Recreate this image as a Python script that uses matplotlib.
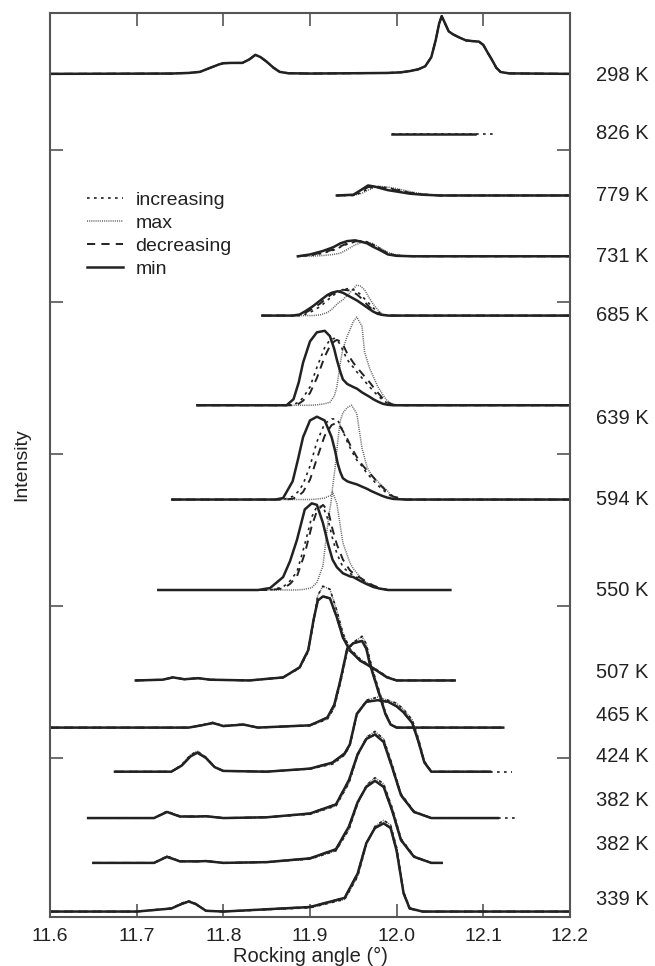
import numpy as np
import matplotlib.pyplot as plt

# temperature labels (top to bottom), offsets of each baseline and label heights
temps = ['298 K', '826 K', '779 K', '731 K', '685 K', '639 K', '594 K',
         '550 K', '507 K', '465 K', '424 K', '382 K', '382 K', '339 K']
offsets = [5.50, 5.105, 4.70, 4.30, 3.91, 3.32, 2.70, 2.105, 1.51, 1.20, 0.91, 0.605, 0.31, -0.01]
label_y = [5.49, 5.105, 4.70, 4.30, 3.91, 3.23, 2.70, 2.105, 1.56, 1.28, 1.01, 0.72, 0.43, 0.07]

# 298 K
x298 = [11.60, 11.74, 11.76, 11.773, 11.785, 11.795, 11.80, 11.81, 11.822, 11.83, 11.837, 11.843, 11.85,
        11.858, 11.865, 11.875, 11.90, 11.95, 11.99, 12.005, 12.015, 12.025, 12.033, 12.04, 12.045, 12.049,
        12.052, 12.056, 12.06, 12.065, 12.072, 12.08, 12.088, 12.095, 12.10, 12.105, 12.11, 12.115, 12.12,
        12.13, 12.2]
h298 = [0, 0.002, 0.006, 0.013, 0.04, 0.062, 0.07, 0.072, 0.072, 0.095, 0.125, 0.11, 0.08,
        0.04, 0.013, 0.004, 0.002, 0.004, 0.006, 0.01, 0.018, 0.03, 0.05, 0.11, 0.22, 0.33,
        0.38, 0.33, 0.28, 0.26, 0.24, 0.22, 0.215, 0.212, 0.19, 0.14, 0.092, 0.04, 0.012,
        0.003, 0]

# 826 K
x826_min = [11.995, 12.09]
x826_inc = [11.995, 12.112]

# 779 K
x779 = [11.931, 11.95, 11.96, 11.967, 11.975, 11.98, 11.99, 12.0, 12.015, 12.03, 12.05, 12.2]
h779_min = [0, 0.005, 0.04, 0.066, 0.058, 0.05, 0.035, 0.026, 0.012, 0.005, 0, 0]
h779_max = [0, 0, 0.015, 0.035, 0.055, 0.06, 0.055, 0.045, 0.026, 0.01, 0, 0]
h779_inc = [0, 0, 0.02, 0.045, 0.058, 0.058, 0.05, 0.04, 0.02, 0.008, 0, 0]
h779_dec = [0, 0.003, 0.03, 0.055, 0.06, 0.055, 0.045, 0.035, 0.018, 0.006, 0, 0]

# 731 K
x731 = [11.886, 11.90, 11.915, 11.927, 11.935, 11.943, 11.952, 11.96, 11.966, 11.972, 11.981, 11.99, 12.0, 12.02, 12.2]
h731_min = [0, 0.012, 0.035, 0.06, 0.085, 0.10, 0.105, 0.095, 0.085, 0.065, 0.04, 0.012, 0.003, 0, 0]
h731_max = [0, 0, 0.005, 0.012, 0.02, 0.045, 0.075, 0.09, 0.09, 0.085, 0.055, 0.025, 0.008, 0, 0]
h731_inc = [0, 0.005, 0.02, 0.04, 0.06, 0.08, 0.095, 0.10, 0.095, 0.08, 0.05, 0.02, 0.005, 0, 0]
h731_dec = [0, 0.008, 0.025, 0.045, 0.065, 0.085, 0.098, 0.10, 0.092, 0.075, 0.045, 0.018, 0.004, 0, 0]

# 685 K
x685 = [11.845, 11.88, 11.888, 11.895, 11.903, 11.912, 11.92, 11.925, 11.932, 11.938, 11.946, 11.954,
        11.958, 11.963, 11.968, 11.973, 11.978, 11.983, 11.99, 12.0, 12.2]
h685_min = [0, 0, 0.007, 0.03, 0.06, 0.10, 0.135, 0.15, 0.16, 0.15, 0.125, 0.10, 0.085, 0.065, 0.045, 0.026, 0.012, 0.005, 0, 0, 0]
h685_max = [0, 0, 0, 0, 0, 0.005, 0.02, 0.04, 0.08, 0.105, 0.15, 0.20, 0.195, 0.17, 0.12, 0.075, 0.04, 0.01, 0, 0, 0]
h685_inc = [0, 0, 0, 0.01, 0.03, 0.06, 0.10, 0.125, 0.155, 0.17, 0.18, 0.16, 0.14, 0.11, 0.08, 0.05, 0.025, 0.01, 0.002, 0, 0]
h685_dec = [0, 0, 0.003, 0.02, 0.045, 0.08, 0.12, 0.14, 0.16, 0.17, 0.165, 0.14, 0.12, 0.09, 0.06, 0.035, 0.015, 0.005, 0, 0, 0]

# 639 K
x639 = [11.77, 11.86, 11.873, 11.881, 11.887, 11.892, 11.90, 11.908, 11.917, 11.923, 11.928, 11.931, 11.935,
        11.938, 11.943, 11.95, 11.954, 11.96, 11.963, 11.969, 11.973, 11.978, 11.984, 11.989, 11.996, 12.01, 12.2]
h639_min = [0, 0, 0, 0.04, 0.15, 0.28, 0.42, 0.48, 0.49, 0.455, 0.37, 0.30, 0.22, 0.17, 0.14, 0.12, 0.11,
            0.085, 0.075, 0.055, 0.04, 0.025, 0.01, 0.004, 0, 0, 0]
h639_max = [0, 0, 0, 0, 0, 0, 0, 0.003, 0.01, 0.02, 0.06, 0.12, 0.28, 0.37, 0.455, 0.55, 0.58, 0.52, 0.35,
            0.24, 0.19, 0.125, 0.07, 0.03, 0.005, 0, 0]
h639_inc = [0, 0, 0, 0.005, 0.02, 0.05, 0.12, 0.25, 0.38, 0.43, 0.44, 0.43, 0.40, 0.36, 0.30, 0.25, 0.22,
            0.18, 0.16, 0.12, 0.095, 0.065, 0.035, 0.015, 0.002, 0, 0]
h639_dec = [0, 0, 0, 0, 0.01, 0.03, 0.08, 0.18, 0.32, 0.39, 0.42, 0.43, 0.42, 0.40, 0.34, 0.28, 0.25,
            0.21, 0.19, 0.15, 0.12, 0.085, 0.045, 0.02, 0.004, 0, 0]

# 594 K
x594 = [11.741, 11.86, 11.869, 11.88, 11.886, 11.892, 11.90, 11.908, 11.917, 11.925, 11.929, 11.932, 11.935,
        11.938, 11.943, 11.948, 11.954, 11.96, 11.966, 11.971, 11.977, 11.983, 11.989, 11.996, 12.01, 12.2]
h594_min = [0, 0, 0.01, 0.12, 0.26, 0.41, 0.52, 0.545, 0.52, 0.41, 0.32, 0.237, 0.18, 0.14, 0.12, 0.11,
            0.10, 0.085, 0.07, 0.055, 0.04, 0.025, 0.013, 0.004, 0, 0]
h594_max = [0, 0, 0, 0, 0, 0, 0, 0.003, 0.01, 0.03, 0.21, 0.38, 0.52, 0.57, 0.605, 0.62, 0.565, 0.34,
            0.21, 0.16, 0.125, 0.09, 0.06, 0.01, 0, 0]
h594_inc = [0, 0, 0, 0.02, 0.05, 0.1, 0.22, 0.38, 0.50, 0.53, 0.53, 0.52, 0.49, 0.45, 0.38, 0.32, 0.26,
            0.22, 0.17, 0.14, 0.10, 0.07, 0.04, 0.015, 0, 0]
h594_dec = [0, 0, 0, 0.005, 0.02, 0.05, 0.13, 0.27, 0.42, 0.49, 0.50, 0.50, 0.48, 0.45, 0.40, 0.34, 0.28,
            0.23, 0.19, 0.16, 0.12, 0.085, 0.05, 0.02, 0, 0]

# 550 K
x550 = [11.725, 11.84, 11.854, 11.869, 11.877, 11.885, 11.894, 11.902, 11.908, 11.915, 11.921, 11.926,
        11.931, 11.938, 11.946, 11.95, 11.958, 11.965, 11.973, 11.98, 11.99, 12.062]
h550_min = [0, 0, 0.013, 0.085, 0.19, 0.33, 0.53, 0.57, 0.56, 0.44, 0.30, 0.20, 0.15, 0.11, 0.09, 0.085,
            0.06, 0.04, 0.02, 0.01, 0, 0]
h550_max = [0, 0, 0, 0, 0, 0, 0.005, 0.015, 0.05, 0.16, 0.46, 0.645, 0.57, 0.31, 0.18, 0.14, 0.085, 0.05,
            0.02, 0.008, 0, 0]
h550_inc = [0, 0, 0, 0.02, 0.06, 0.12, 0.3, 0.48, 0.55, 0.55, 0.46, 0.34, 0.24, 0.15, 0.11, 0.095, 0.07,
            0.05, 0.025, 0.012, 0, 0]
h550_dec = [0, 0, 0, 0.01, 0.04, 0.09, 0.24, 0.42, 0.52, 0.56, 0.52, 0.40, 0.30, 0.20, 0.13, 0.11, 0.08,
            0.055, 0.03, 0.015, 0, 0]

# 507 K
x507 = [11.699, 11.73, 11.742, 11.755, 11.771, 11.785, 11.83, 11.869, 11.888, 11.898, 11.904, 11.909,
        11.915, 11.923, 11.931, 11.938, 11.946, 11.958, 11.973, 11.989, 12.0, 12.067]
h507_min = [0, 0.005, 0.02, 0.008, 0.015, 0.005, 0, 0.02, 0.086, 0.2, 0.395, 0.526, 0.553, 0.54, 0.415,
            0.283, 0.197, 0.13, 0.08, 0.02, 0, 0]
h507_max = [0, 0.005, 0.022, 0.008, 0.017, 0.005, 0, 0.02, 0.08, 0.19, 0.38, 0.56, 0.62, 0.60, 0.46,
            0.31, 0.21, 0.14, 0.085, 0.025, 0, 0]

# 465 K
x465 = [11.60, 11.76, 11.775, 11.788, 11.80, 11.812, 11.823, 11.84, 11.90, 11.92, 11.928, 11.935, 11.943,
        11.95, 11.96, 11.965, 11.969, 11.975, 11.981, 11.987, 11.993, 12.0, 12.123]
h465_min = [0, 0, 0.015, 0.03, 0.01, 0.015, 0.02, 0, 0.015, 0.066, 0.15, 0.31, 0.52, 0.555, 0.57, 0.52,
            0.42, 0.31, 0.20, 0.09, 0.02, 0, 0]
h465_max = [0, 0, 0.017, 0.034, 0.012, 0.017, 0.022, 0, 0.013, 0.055, 0.13, 0.29, 0.50, 0.56, 0.60, 0.55,
            0.45, 0.33, 0.22, 0.10, 0.025, 0, 0]

# 424 K
x424 = [11.675, 11.74, 11.752, 11.762, 11.77, 11.78, 11.79, 11.80, 11.85, 11.90, 11.926, 11.94, 11.946,
        11.954, 11.965, 11.978, 11.99, 12.0, 12.008, 12.018, 12.025, 12.032, 12.04, 12.108]
h424_min = [0, 0, 0.04, 0.10, 0.125, 0.09, 0.03, 0.005, 0, 0.02, 0.06, 0.12, 0.18, 0.38, 0.46, 0.47, 0.46,
            0.43, 0.39, 0.32, 0.2, 0.06, 0, 0]
h424_max = [0, 0, 0.045, 0.11, 0.135, 0.095, 0.03, 0.005, 0, 0.018, 0.05, 0.11, 0.17, 0.37, 0.47, 0.49, 0.47,
            0.45, 0.41, 0.34, 0.22, 0.07, 0, 0]
x424_tail = [12.108, 12.133]

# 382 K (upper)
x382 = [11.644, 11.72, 11.735, 11.75, 11.77, 11.78, 11.80, 11.85, 11.90, 11.93, 11.945, 11.955, 11.965,
        11.975, 11.985, 11.995, 12.005, 12.02, 12.04, 12.117]
h382_min = [0, 0, 0.04, 0.01, 0.01, 0.012, 0, 0.005, 0.03, 0.09, 0.25, 0.42, 0.52, 0.55, 0.50, 0.33, 0.15,
            0.04, 0, 0]
h382_max = [0, 0, 0.045, 0.012, 0.01, 0.014, 0, 0.005, 0.025, 0.08, 0.23, 0.41, 0.53, 0.57, 0.52, 0.35,
            0.16, 0.045, 0, 0]
x382_tail = [12.117, 12.139]

# 382 K (lower)
x382b = [11.65, 11.72, 11.735, 11.75, 11.77, 11.78, 11.80, 11.85, 11.90, 11.93, 11.945, 11.955, 11.965,
         11.975, 11.985, 11.995, 12.005, 12.02, 12.04, 12.052]
h382b_min = [0, 0, 0.04, 0.01, 0.01, 0.012, 0, 0.005, 0.03, 0.09, 0.24, 0.40, 0.50, 0.54, 0.50, 0.34, 0.15,
             0.04, 0, 0]
h382b_max = [0, 0, 0.045, 0.012, 0.01, 0.014, 0, 0.005, 0.025, 0.08, 0.22, 0.39, 0.51, 0.56, 0.52, 0.36,
             0.16, 0.045, 0, 0]

# 339 K
x339 = [11.60, 11.70, 11.74, 11.752, 11.76, 11.768, 11.78, 11.80, 11.90, 11.94, 11.955, 11.965, 11.975,
        11.985, 11.993, 12.0, 12.008, 12.015, 12.03, 12.2]
h339_min = [0, 0, 0.02, 0.05, 0.066, 0.05, 0.005, 0, 0.03, 0.09, 0.25, 0.45, 0.55, 0.58, 0.55, 0.40, 0.12,
            0.02, 0, 0]
h339_max = [0, 0, 0.022, 0.055, 0.07, 0.052, 0.005, 0, 0.025, 0.08, 0.23, 0.44, 0.56, 0.60, 0.57, 0.42,
            0.13, 0.025, 0, 0]

ink = '#222222'
styles = {
    'inc': dict(color=ink, lw=1.2, ls=(0, (1.6, 2.6))),
    'max': dict(color='#666666', lw=1.1, ls=(0, (0.7, 0.7))),
    'dec': dict(color=ink, lw=1.4, ls=(0, (4.2, 3.2))),
    'min': dict(color=ink, lw=1.8, ls='-'),
}


def curve(ax, x, h, off, kind):
    ax.plot(x, np.array(h) + off, **styles[kind])


fig = plt.figure(figsize=(6.55, 9.66), dpi=100)
plt.rcParams['font.family'] = ['Liberation Sans', 'DejaVu Sans']
ax = fig.add_axes([0.0763, 0.0507, 0.7939, 0.9358])

o = dict(zip(range(len(temps)), offsets))

# 298 K: all four coincide
for k in ['max', 'inc', 'dec', 'min']:
    curve(ax, x298, h298, o[0], k)

ax.plot(x826_inc, [o[1]] * 2, **styles['inc'])
ax.plot(x826_min, [o[1]] * 2, **styles['min'])

groups = [
    (2, x779, h779_max, h779_inc, h779_dec, h779_min),
    (3, x731, h731_max, h731_inc, h731_dec, h731_min),
    (4, x685, h685_max, h685_inc, h685_dec, h685_min),
    (5, x639, h639_max, h639_inc, h639_dec, h639_min),
    (6, x594, h594_max, h594_inc, h594_dec, h594_min),
    (7, x550, h550_max, h550_inc, h550_dec, h550_min),
    (8, x507, h507_max, h507_max, h507_min, h507_min),
    (9, x465, h465_max, h465_max, h465_min, h465_min),
    (10, x424, h424_max, h424_max, h424_min, h424_min),
    (11, x382, h382_max, h382_max, h382_min, h382_min),
    (12, x382b, h382b_max, h382b_max, h382b_min, h382b_min),
    (13, x339, h339_max, h339_max, h339_min, h339_min),
]
for i, x, hmax, hinc, hdec, hmin in groups:
    curve(ax, x, hmax, o[i], 'max')
    curve(ax, x, hinc, o[i], 'inc')
    curve(ax, x, hdec, o[i], 'dec')
    curve(ax, x, hmin, o[i], 'min')

ax.plot(x424_tail, [o[10]] * 2, **styles['inc'])
ax.plot(x382_tail, [o[11]] * 2, **styles['inc'])

# legend
handles = [plt.Line2D([], [], **styles[k]) for k in ['inc', 'max', 'dec', 'min']]
ax.legend(handles, ['increasing', 'max', 'decreasing', 'min'], loc='upper left',
          bbox_to_anchor=(0.071, 0.803), frameon=False, fontsize=14, handlelength=1.85,
          handletextpad=0.65, labelspacing=0.28, borderaxespad=0, borderpad=0,
          labelcolor='#222222')

for t, y in zip(temps, label_y):
    ax.text(12.2 + 26 / 866.7, y, t, fontsize=14.5, va='center', ha='left', color='#222222', clip_on=False)

ax.set_xlim(11.6, 12.2)
ax.set_ylim(-0.046, 5.90)
ax.set_xticks([11.6, 11.7, 11.8, 11.9, 12.0, 12.1, 12.2])
ax.set_xticklabels(['11.6', '11.7', '11.8', '11.9', '12.0', '12.1', '12.2'])
ax.set_yticks([1, 2, 3, 4, 5])
ax.set_yticklabels([])
ax.tick_params(direction='in', length=9.5, width=1.2, color='#555555', top=True, right=True,
               labelsize=14, labelcolor='#222222', pad=8)
for s in ax.spines.values():
    s.set_color('#555555')
    s.set_linewidth(1.5)
ax.set_xlabel('Rocking angle (°)', fontsize=14.5, color='#222222', labelpad=1)
ax.set_ylabel('Intensity', fontsize=14, color='#222222', labelpad=6)

fig.savefig('out.png', dpi=100)
